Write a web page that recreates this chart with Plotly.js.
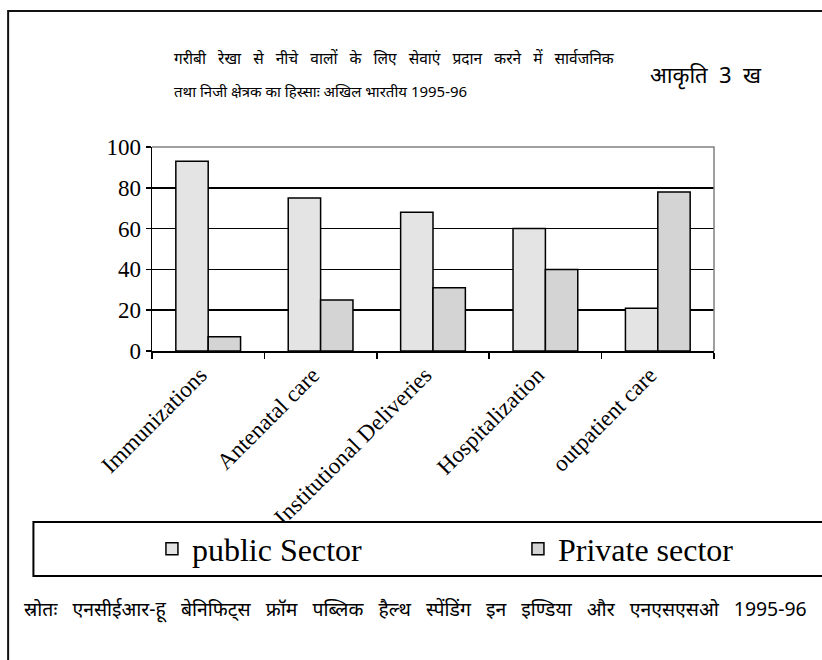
<!DOCTYPE html>
<html>
<head>
<meta charset="utf-8">
<script src="https://cdn.plot.ly/plotly-3.0.1.min.js"></script>
<style>
  html, body { margin: 0; padding: 0; background: #ffffff; }
  #chart { width: 822px; height: 660px; }
</style>
</head>
<body>
<div id="chart"></div>
<script>
// Share of public and private sector in services used by people below the poverty line (%)
const categories = ['Immunizations', 'Antenatal care', 'Institutional Deliveries', 'Hospitalization', 'outpatient care'];
const publicSector = [93, 75, 68, 60, 21];
const privateSector = [7, 25, 31, 40, 78];
const seriesNames = ['public Sector', 'Private sector'];
const yTicks = [0, 20, 40, 60, 80, 100];

const titleLine1 = 'गरीबी रेखा से नीचे वालों के लिए सेवाएं प्रदान करने में सार्वजनिक';
const titleLine2 = 'तथा निजी क्षेत्रक का हिस्साः अखिल भारतीय 1995-96';
const figureLabel = 'आकृति 3 ख';
const sourceNote = 'स्रोतः एनसीईआर-हू बेनिफिट्स फ्रॉम पब्लिक हैल्थ स्पेंडिंग इन इण्डिया और एनएसएसओ 1995-96';

const serif = 'Liberation Serif, Times New Roman, serif';
const hindi = 'Noto Sans, Liberation Sans, sans-serif';

// widen the gaps between words (justified look of the printed captions)
function spread(text, extra) {
  return text.split(' ').join(' ' + '\u00a0'.repeat(extra));
}

const traces = [
  {
    type: 'bar', name: seriesNames[0], x: categories, y: publicSector,
    marker: { color: '#e4e4e4', line: { color: '#000000', width: 1.5 } },
    legendwidth: 321, hoverinfo: 'x+y'
  },
  {
    type: 'bar', name: seriesNames[1], x: categories, y: privateSector,
    marker: { color: '#d4d4d4', line: { color: '#000000', width: 1.5 } },
    legendwidth: 190, hoverinfo: 'x+y'
  }
];

const layout = {
  width: 822, height: 660,
  margin: { l: 152, r: 108, t: 147, b: 309, pad: 0 },
  paper_bgcolor: '#ffffff', plot_bgcolor: '#ffffff',
  barmode: 'group', bargap: 0.424, bargroupgap: 0,
  showlegend: true,
  legend: {
    orientation: 'h', x: -0.0001, xanchor: 'left', y: -0.97, yanchor: 'middle',
    bgcolor: 'rgba(0,0,0,0)', borderwidth: 0,
    font: { family: serif, size: 32, color: '#000000' },
    itemwidth: 30, itemclick: false, itemdoubleclick: false
  },
  xaxis: {
    type: 'category', tickson: 'boundaries', ticks: 'outside', ticklen: 6,
    tickwidth: 1.5, tickcolor: '#000000', showline: true, linecolor: '#000000',
    linewidth: 1.5, showgrid: false, tickangle: -45, ticklabelshift: -8,
    tickfont: { family: serif, size: 23, color: '#000000' }, fixedrange: true
  },
  yaxis: {
    range: [0, 100], tickvals: yTicks, ticktext: yTicks.map(String),
    ticks: 'outside', ticklen: 5, tickwidth: 1.5, tickcolor: '#000000',
    showline: true, linecolor: '#000000', linewidth: 1.5,
    showgrid: true, gridcolor: '#000000', gridwidth: 1.5, zeroline: false,
    tickfont: { family: serif, size: 23, color: '#000000' }, fixedrange: true
  },
  shapes: [
    // outer frame of the figure
    { type: 'rect', xref: 'paper', yref: 'paper', x0: -0.256, x1: 1.3, y0: -1.6, y1: 1.667,
      line: { color: '#111111', width: 2 }, fillcolor: 'rgba(0,0,0,0)', layer: 'below' },
    // grey top and right edges of the plot area
    { type: 'path', xref: 'paper', yref: 'paper', path: 'M0,1 L1,1 L1,0',
      line: { color: '#808080', width: 1.5 }, layer: 'above' },
    // legend box
    { type: 'rect', xref: 'paper', yref: 'paper', x0: -0.211, x1: 1.3, y0: -1.103, y1: -0.838,
      line: { color: '#000000', width: 2 }, fillcolor: '#ffffff', layer: 'above' }
  ],
  annotations: [
    { xref: 'paper', yref: 'paper', x: 0.0356, y: 1.436, xanchor: 'left', yanchor: 'middle',
      text: spread(titleLine1, 2), showarrow: false,
      font: { family: hindi, size: 15.5, color: '#000000' } },
    { xref: 'paper', yref: 'paper', x: 0.0356, y: 1.275, xanchor: 'left', yanchor: 'middle',
      text: titleLine2, showarrow: false,
      font: { family: hindi, size: 15, color: '#000000' } },
    { xref: 'paper', yref: 'paper', x: 0.8826, y: 1.353, xanchor: 'left', yanchor: 'middle',
      text: spread(figureLabel, 1), showarrow: false,
      font: { family: hindi, size: 22, color: '#000000' } },
    { xref: 'paper', yref: 'paper', x: -0.2313, y: -1.265, xanchor: 'left', yanchor: 'middle',
      text: spread(sourceNote, 2), showarrow: false,
      font: { family: hindi, size: 19.4, color: '#000000' } }
  ]
};

Plotly.newPlot('chart', traces, layout, { displayModeBar: false, staticPlot: true });
</script>
</body>
</html>
